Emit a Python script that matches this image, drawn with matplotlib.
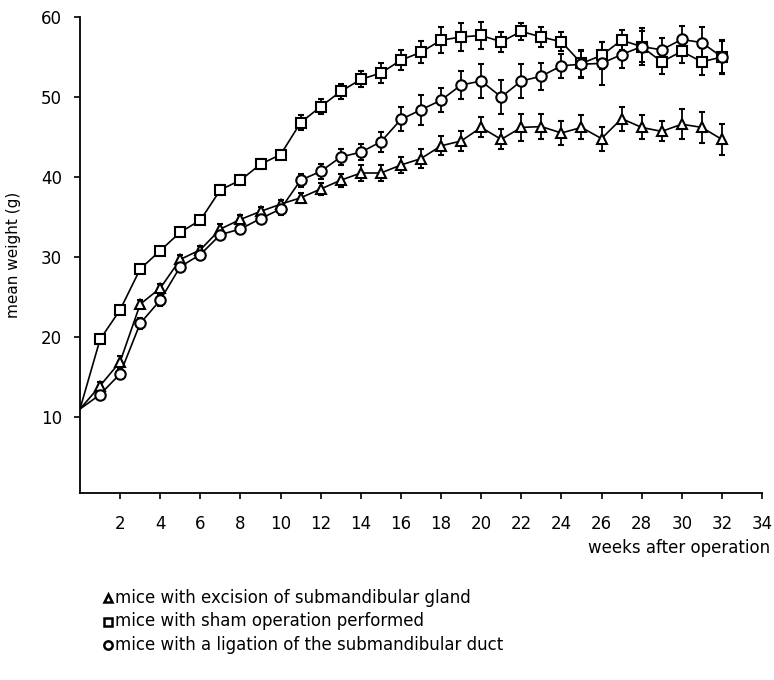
import matplotlib
matplotlib.use('Agg')
import matplotlib.pyplot as plt
from matplotlib.lines import Line2D

plt.rcParams['font.family'] = ['DejaVu Sans']

# weeks after operation (week 0 = start, no marker drawn)
weeks = list(range(0, 33))

# excision of submandibular gland (triangles)
excision = [11.0, 13.9, 16.9, 24.1, 26.1, 29.7, 30.9, 33.5, 34.7, 35.7, 36.6,
            37.4, 38.5, 39.6, 40.5, 40.5, 41.5, 42.3, 43.9, 44.5, 46.2,
            44.7, 46.2, 46.3, 45.5, 46.2, 44.8, 47.3, 46.2, 45.7, 46.6,
            46.2, 44.7]
excision_err = [0, 0.5, 0.7, 0.5, 0.5, 0.6, 0.5, 0.6, 0.5, 0.5, 0.5,
                0.6, 0.7, 0.8, 1.0, 1.0, 1.0, 1.2, 1.2, 1.25, 1.25,
                1.25, 1.7, 1.6, 1.5, 1.5, 1.5, 1.5, 1.5, 1.25, 1.9,
                1.9, 1.9]

# sham operation (squares)
sham = [11.0, 19.7, 23.4, 28.5, 30.8, 33.1, 34.6, 38.4, 39.6, 41.6, 42.8,
        46.8, 48.8, 50.7, 52.2, 53.0, 54.6, 55.6, 57.1, 57.5, 57.7,
        56.9, 58.2, 57.5, 56.9, 54.2, 55.2, 57.1, 56.3, 54.4, 55.7,
        54.4, 55.0]
sham_err = [0, 0.3, 0.3, 0.4, 0.4, 0.4, 0.4, 0.6, 0.6, 0.6, 0.6,
            0.9, 0.9, 0.9, 1.0, 1.2, 1.25, 1.4, 1.6, 1.8, 1.7,
            1.25, 1.1, 1.2, 1.2, 1.7, 1.7, 1.25, 2.3, 1.5, 1.5,
            1.7, 2.0]

# ligation of the submandibular duct (circles)
ligation = [11.0, 12.8, 15.4, 21.7, 24.6, 28.8, 30.3, 32.8, 33.5, 34.8, 36.0,
            39.6, 40.7, 42.5, 43.1, 44.4, 47.2, 48.4, 49.6, 51.5, 52.0,
            50.0, 52.0, 52.6, 53.9, 54.1, 54.2, 55.3, 56.3, 55.9, 57.2,
            56.8, 55.0]
ligation_err = [0, 0.5, 0.6, 0.7, 0.7, 0.7, 0.6, 0.6, 0.6, 0.6, 0.7,
                0.8, 0.9, 1.0, 1.0, 1.25, 1.5, 1.9, 1.5, 1.7, 2.1,
                2.1, 2.1, 1.7, 1.5, 1.7, 2.7, 1.7, 1.9, 1.5, 1.7,
                1.9, 2.1]

legend_labels = ['mice with excision of submandibular gland',
                 'mice with sham operation performed',
                 'mice with a ligation of the submandibular duct']

fig = plt.figure(figsize=(7.74, 6.80), dpi=100)
ax = fig.add_axes([80 / 774, 1 - 493 / 680, 682 / 774, 476 / 680])

series = [(excision, excision_err, '^', 7.5),
          (sham, sham_err, 's', 6.5),
          (ligation, ligation_err, 'o', 7.5)]
for vals, errs, mk, ms in series:
    ax.errorbar(weeks[1:], vals[1:], yerr=errs[1:], fmt='none',
                ecolor='black', elinewidth=1.3, capsize=2.5, capthick=1.5,
                zorder=2)
    ax.plot(weeks, vals, color='black', lw=1.2, marker=mk, ms=ms,
            mfc='white', mec='black', mew=1.5,
            markevery=list(range(1, len(weeks))), zorder=3)

ax.set_xlim(0, 34)
ax.set_ylim(0.5, 60)
ax.set_xticks(range(2, 35, 2))
ax.set_yticks(range(10, 61, 10))
ax.spines['top'].set_visible(False)
ax.spines['right'].set_visible(False)
ax.spines['left'].set_linewidth(1.3)
ax.spines['bottom'].set_linewidth(1.3)
ax.tick_params(axis='both', direction='out', length=4, width=1.2,
               labelsize=12, colors='black')
ax.tick_params(axis='x', pad=12)
ax.tick_params(axis='y', pad=9)
ax.set_ylabel('mean weight (g)', fontsize=11, labelpad=14)

fig.text(770 / 774, 1 - 548 / 680, 'weeks after operation', fontsize=12,
         ha='right', va='center')

# legend block under the chart
for i, (lab, mk) in enumerate(zip(legend_labels, ['^', 's', 'o'])):
    yy = 1 - (598 + i * 23.5) / 680
    fig.add_artist(Line2D([108 / 774], [yy], marker=mk, ms=6, mfc='white',
                          mec='black', mew=1.8, ls='none',
                          transform=fig.transFigure))
    fig.text(115 / 774, yy, lab, fontsize=12, ha='left', va='center')

fig.savefig('out.png', dpi=100)
